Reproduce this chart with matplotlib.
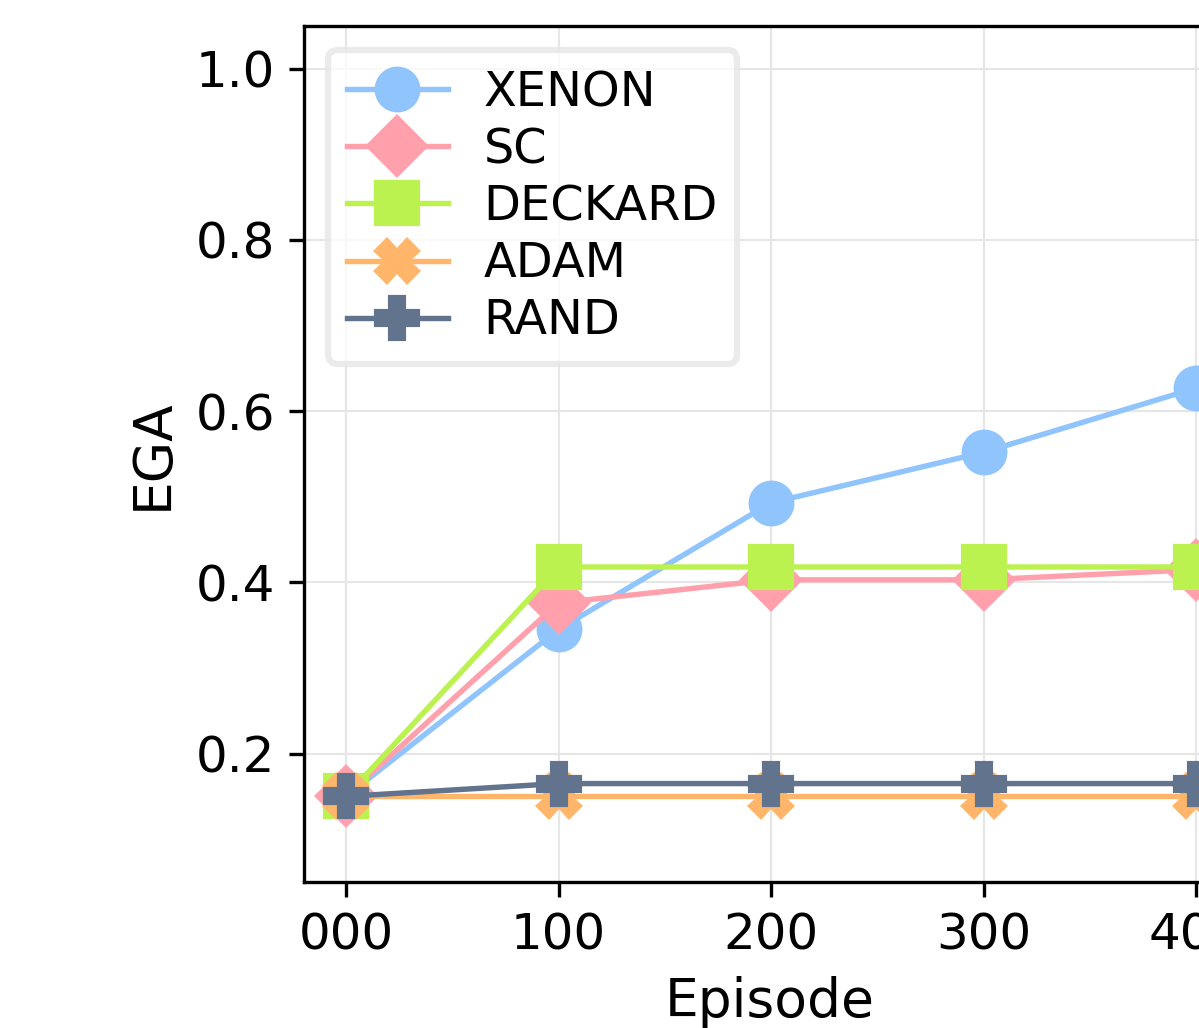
import numpy as np
import matplotlib
matplotlib.use('Agg')
import matplotlib.pyplot as plt

# data (only the visible part of the chart)
episodes = [0, 100, 200, 300, 400]
tick_labels = ['000', '100', '200', '300', '400']
xenon = [0.150, 0.345, 0.493, 0.552, 0.627]
sc = [0.150, 0.376, 0.403, 0.403, 0.415]
deckard = [0.150, 0.418, 0.418, 0.418, 0.418]
adam = [0.150, 0.150, 0.150, 0.150, 0.150]
rand = [0.150, 0.165, 0.165, 0.165, 0.165]

series = [
    ('XENON', xenon, 'o', '#90c4fc'),
    ('SC', sc, 'D', '#ffa0ac'),
    ('DECKARD', deckard, 's', '#bbf24f'),
    ('ADAM', adam, 'X', '#ffb56a'),
    ('RAND', rand, 'P', '#62738d'),
]

W, H, DPI = 1199, 1028, 300
fig = plt.figure(figsize=(W / DPI, H / DPI), dpi=DPI)
# axes runs past the right edge of the figure, like the cropped original
left, right, top, bottom = 304, 1236, 26, 882
ax = fig.add_axes([left / W, 1 - bottom / H, (right - left) / W, (bottom - top) / H])

for name, vals, mk, col in series:
    ax.plot(episodes, vals, marker=mk, color=col, label=name,
            linewidth=1.3, markersize=10)

x_per_px = 100 / 212.5
ax.set_xlim(-42 * x_per_px, -42 * x_per_px + (right - left) * x_per_px)
ax.set_ylim(0.05, 1.05)
ax.set_xticks(episodes)
ax.set_xticklabels(tick_labels, fontsize=12)
ax.set_yticks([0.2, 0.4, 0.6, 0.8, 1.0])
ax.tick_params(axis='y', labelsize=12)
ax.set_xlabel('Episode', fontsize=12.8)
ax.set_ylabel('EGA', fontsize=12.8)
ax.grid(True, color='#e6e6e6', linewidth=0.5)
ax.set_axisbelow(True)
leg = ax.legend(loc='upper left', fontsize=11.5, labelspacing=0.21, handlelength=2.1,
                handletextpad=0.75, borderaxespad=0.5, borderpad=0.4)
leg.get_frame().set_edgecolor('#e6e6e6')
leg.get_frame().set_linewidth(1.5)

fig.savefig('out.png', dpi=DPI)
